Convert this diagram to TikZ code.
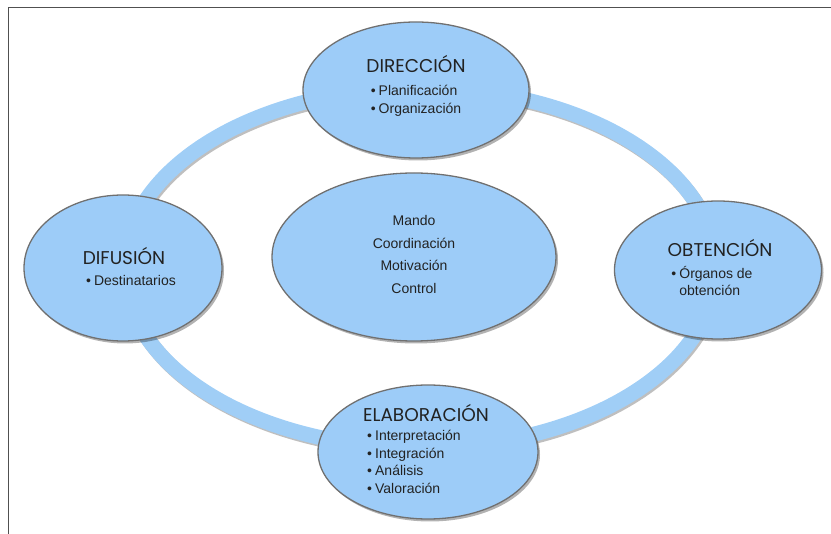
\documentclass[tikz,border=0pt]{standalone}
\usepackage{fontspec}
\setmainfont{Liberation Sans}
\newfontfamily\titlefont{Poppins}
\usetikzlibrary{calc,shapes.geometric,shadows}

\newcommand{\vineta}[1]{\begin{tabular}{@{}l@{\hspace{3pt}}l@{}}#1\end{tabular}}

\begin{document}
\begin{tikzpicture}[x=1pt, y=-1pt,
  fase/.style={ellipse, draw=bordegris, line width=1.3pt, fill=azulfase, inner sep=0pt,
    drop shadow={shadow xshift=2pt, shadow yshift=-2.5pt, opacity=0.3, fill=black}},
  titulo/.style={anchor=base, text=textogris, font=\titlefont\fontsize{18.5}{22}\selectfont},
  lista/.style={text=textogris, inner sep=0pt, font=\fontsize{14}{17.5}\selectfont}]


\def\ringWidth{15}
\def\shadowShift{2}
\definecolor{azulfase}{RGB}{157,204,248}
\definecolor{azulanillo}{RGB}{160,206,246}
\definecolor{bordegris}{RGB}{112,112,112}
\definecolor{textogris}{RGB}{34,34,34}
\definecolor{marcogris}{RGB}{80,80,80}

\useasboundingbox (0,0) rectangle (831,534);

\coordinate (centro) at (420,268);
\coordinate (marco-abajo) at (8.5,534);
\coordinate (marco-esquina) at (8.5,7.5);
\coordinate (marco-derecha) at (831,7.5);


%DRAW

\draw[marcogris, line width=1.5pt] (marco-abajo) -- (marco-esquina) -- (marco-derecha);

\draw[black, opacity=0.25, line width=\ringWidth pt] ($(centro) + (1.5,\shadowShift)$) ellipse [x radius=296, y radius=180];
\draw[azulanillo, line width=\ringWidth pt] (centro) ellipse [x radius=296, y radius=180];

\node[fase, minimum width=226pt, minimum height=136pt] (direccion) at (416,90) {};
\node[titulo] (direccion-titulo) at ($(direccion) + (0,-17.5)$) {DIRECCIÓN};
\node[lista] (direccion-lista) at ($(direccion) + (0,11)$) {\vineta{• & Planificación\\ • & Organización}};

\node[fase, minimum width=207pt, minimum height=138pt] (obtencion) at (718,270) {};
\node[titulo] (obtencion-titulo) at ($(obtencion) + (2,-13.5)$) {OBTENCIÓN};
\node[lista] (obtencion-lista) at ($(obtencion) + (-6,13.5)$) {\vineta{• & Órganos de\\ & obtención}};

\node[fase, minimum width=220pt, minimum height=134pt] (elaboracion) at (428,452) {};
\node[titulo] (elaboracion-titulo) at ($(elaboracion) + (-2,-30.5)$) {ELABORACIÓN};
\node[lista] (elaboracion-lista) at ($(elaboracion) + (-14,11.5)$) {\vineta{• & Interpretación\\ • & Integración\\ • & Análisis\\ • & Valoración}};

\node[fase, minimum width=198pt, minimum height=146pt] (difusion) at (123,268) {};
\node[titulo] (difusion-titulo) at ($(difusion) + (1,-3.5)$) {DIFUSIÓN};
\node[lista] (difusion-lista) at ($(difusion) + (8,14)$) {\vineta{• & Destinatarios}};

\node[fase, minimum width=284pt, minimum height=168pt] (funciones) at (414,257) {};
\node[lista, align=center, font=\fontsize{14}{22.7}\selectfont] (funciones-lista) at ($(funciones) + (0,-2.5)$) {Mando\\ Coordinación\\ Motivación\\ Control};


\end{tikzpicture}
\end{document}
